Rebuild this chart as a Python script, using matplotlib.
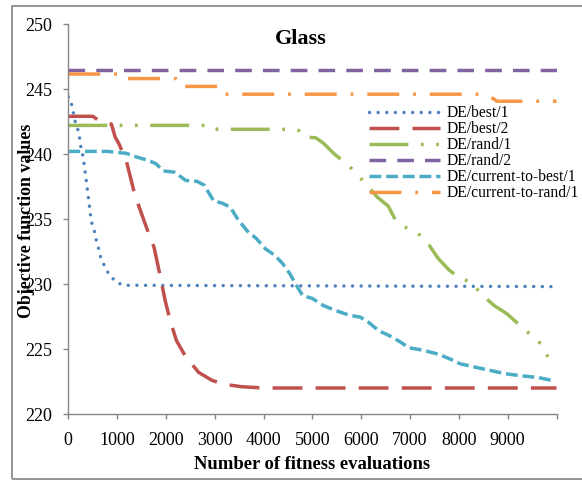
import matplotlib
matplotlib.use("Agg")
import matplotlib.pyplot as plt
from matplotlib.patches import Rectangle

# data
best1_x = [0, 46, 152, 213, 259, 304, 350, 426, 472, 533, 563, 609, 639, 715, 837, 997, 1149, 10000]
best1_y = [244.4, 244.2, 242.3, 241.7, 240.5, 239.8, 238.5, 236.2, 234.8, 234.1, 233.5, 232.95, 232.3,
           231.6, 230.7, 230.1, 229.9, 229.8]

best2_x = [0, 500, 616, 883, 960, 1035, 1187, 1340, 1453, 1644, 1758, 1872, 1986, 2085, 2215, 2405,
           2671, 2938, 3166, 3546, 4000, 10000]
best2_y = [242.9, 242.9, 242.6, 242.3, 241.3, 240.8, 239.5, 237.2, 235.9, 233.9, 232.8, 230.8, 228.7,
           227.2, 225.65, 224.4, 223.2, 222.6, 222.3, 222.1, 222.0, 222.0]

rand1_x = [0, 2950, 3050, 4612, 4726, 4840, 5068, 5220, 5449, 5715, 5944, 6096, 6210, 6324, 6552, 6705,
           6971, 7161, 7390, 7580, 7808, 8037, 8265, 8417, 8493, 8721, 8988, 9254, 9406, 9559, 9673, 9825]
rand1_y = [242.2, 242.2, 241.9, 241.9, 241.8, 241.3, 241.25, 240.85, 240.0, 239.2, 238.35, 237.65, 237.2,
           236.7, 236.0, 234.9, 234.2, 233.9, 233.0, 231.95, 231.05, 230.4, 230.15, 229.4, 229.1, 228.35,
           227.7, 226.8, 226.3, 225.9, 225.4, 224.4]

rand2_x = [0, 10000]
rand2_y = [246.45, 246.45]

ctb_x = [0, 800, 1187, 1415, 1644, 1796, 1948, 2176, 2405, 2633, 2785, 2976, 3166, 3318, 3470, 3660,
         3851, 4041, 4231, 4384, 4536, 4688, 4802, 4992, 5220, 5449, 5753, 5982, 6134, 6362, 6591, 6819,
         6971, 7275, 7580, 7808, 8037, 8341, 8645, 8950, 9254, 9635, 9939]
ctb_y = [240.2, 240.2, 240.05, 239.75, 239.5, 239.25, 238.7, 238.6, 237.97, 237.9, 237.6, 236.4, 236.2,
         235.9, 235.0, 234.1, 233.5, 232.7, 232.2, 231.6, 230.8, 229.8, 229.1, 228.9, 228.35, 228.0,
         227.6, 227.45, 227.1, 226.4, 226.0, 225.5, 225.1, 224.9, 224.6, 224.25, 223.85, 223.6, 223.35,
         223.1, 222.95, 222.8, 222.55]

ctr_x = [0, 1000, 1050, 2200, 2260, 3080, 3140, 8500, 8650, 8780, 10000]
ctr_y = [246.15, 246.15, 245.8, 245.8, 245.2, 245.2, 244.6, 244.6, 244.4, 244.06, 244.06]

x_ticks = list(range(0, 10001, 1000))
x_tick_labels = [str(t) for t in range(0, 10000, 1000)] + [""]
y_ticks = list(range(220, 251, 5))

plt.rcParams["font.family"] = ["Liberation Serif", "DejaVu Serif"]
plt.rcParams["lines.scale_dashes"] = False

fig = plt.figure(figsize=(5.82, 4.86), dpi=100)
ax = fig.add_axes([68.3 / 582, 1 - 414 / 486, 488.2 / 582, 390 / 486])

lw = 2.5
ax.plot(best1_x, best1_y, color="#4F81BD", lw=lw, linestyle=(0, (0.01, 6.2)),
        dash_capstyle="round", label="DE/best/1")
ax.plot(best2_x, best2_y, color="#C0504D", lw=lw, linestyle=(0, (21.5, 9.5)), label="DE/best/2")
ax.plot(rand1_x, rand1_y, color="#9BBB59", lw=lw, linestyle=(0, (28, 9, 2, 9, 2, 9)),
        label="DE/rand/1")
ax.plot(rand2_x, rand2_y, color="#8064A2", lw=lw, linestyle=(0, (12, 8)), label="DE/rand/2")
ax.plot(ctb_x, ctb_y, color="#4BACC6", lw=lw, linestyle=(0, (8.5, 3.5)), label="DE/current-to-best/1")
ax.plot(ctr_x, ctr_y, color="#F79646", lw=lw, linestyle=(0, (23, 10, 2, 10)), label="DE/current-to-rand/1")

ax.set_xlim(0, 10000)
ax.set_ylim(220, 250)
ax.set_xticks(x_ticks)
ax.set_xticklabels(x_tick_labels)
ax.set_yticks(y_ticks)
ax.tick_params(labelsize=13, length=3.6, color="#868686", width=1.0)
ax.tick_params(axis="y", pad=8)
ax.tick_params(axis="x", pad=9.5)
for side in ["top", "right"]:
    ax.spines[side].set_visible(False)
for side in ["left", "bottom"]:
    ax.spines[side].set_color("#868686")
    ax.spines[side].set_linewidth(1.0)

fig.text(300.5 / 582, 1 - 39 / 486, "Glass", fontsize=16, fontweight="bold", ha="center", va="center")
fig.text(312 / 582, 1 - 464 / 486, "Number of fitness evaluations", fontsize=13.4, fontweight="bold",
         ha="center", va="center")
fig.text(27 / 582, 1 - 221 / 486, "Objective function values", fontsize=12.9, fontweight="bold",
         ha="center", va="center", rotation=90)

ax.legend(loc="upper left", bbox_to_anchor=(369 / 582, 1 - 105 / 486), bbox_transform=fig.transFigure,
          frameon=False, fontsize=11.25, labelspacing=0.0, handlelength=4.55, handletextpad=0.4,
          borderpad=0, borderaxespad=0)

# outer chart border
fig.patches.append(Rectangle((12.3 / 582, 1 - 479 / 486), 600 / 582, 473.3 / 486, transform=fig.transFigure,
                             fill=False, edgecolor="#8C8C8C", lw=1.3))

fig.savefig("out.png", dpi=100)
